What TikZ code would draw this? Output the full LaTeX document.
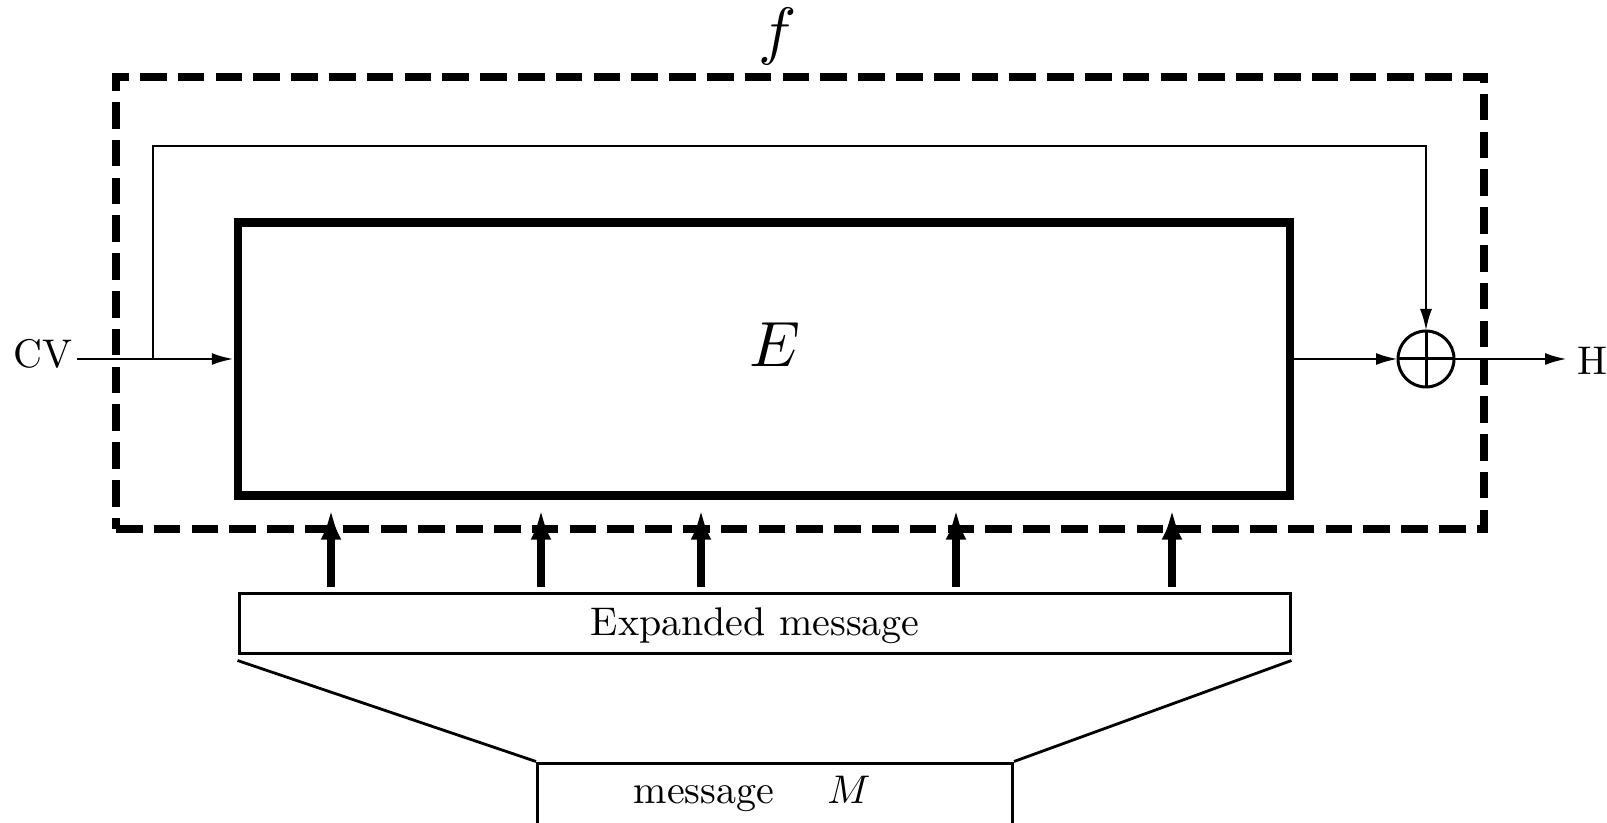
\documentclass[tikz,border=0pt]{standalone}
\usetikzlibrary{arrows.meta}
\begin{document}
\begin{tikzpicture}[x=0.5pt,y=-0.5pt,
  frame/.style={draw, line width=4pt, dash pattern=on 13.3pt off 5.6pt, inner sep=0pt},
  ebox/.style={draw, line width=4.2pt, inner sep=0pt},
  thinbox/.style={draw, line width=1.5pt, inner sep=0pt},
  thinline/.style={line width=1.4pt},
  arr/.style={thinline, -{Latex[length=11pt,width=6pt]}},
  bigarr/.style={line width=4pt, -{Latex[length=15pt,width=10.5pt]}},
  lbl/.style={inner sep=0pt, font=\normalsize, scale=2},
  biglbl/.style={inner sep=0pt, font=\normalsize, scale=3.2}]
\clip (0,0) rectangle (1607,823);

% compression function boundary
\node[frame, minimum width=684pt, minimum height=226pt] (fbox) at (800,303) {};
\node[biglbl, anchor=base] (flabel) at (778,53) {$f$};

% block cipher E
\node[ebox, minimum width=526pt, minimum height=136.5pt] (E) at (764,359) {};
\node[biglbl, anchor=base] (elabel) at (775,367) {$E$};

% message expansion
\node[thinbox, minimum width=525.5pt, minimum height=30pt] (exp) at (764.5,623) {};
\node[lbl, anchor=base west] (explabel) at (590,635) {Expanded message};
\node[thinbox, minimum width=237.5pt, minimum height=45pt] (msg) at (775,808) {};
\node[lbl, anchor=base west] (msglabel) at (633,803) {message\quad\ $M$};
\draw[thinline] ([yshift=-3pt]exp.south west) -- (msg.north west);
\draw[thinline] ([yshift=-3pt]exp.south east) -- (msg.north east);

% message words fed into E
\foreach \x in {331,541,701,956,1172}
  \draw[bigarr, shorten <=2.2pt, shorten >=5pt] (\x,0 |- exp.north) -- (\x,0 |- E.south);

% chaining value, feed-forward and output
\node[lbl, anchor=base east] (cv) at (73,368) {CV};
\node[circle, draw, line width=1.5pt, minimum size=28pt, inner sep=0pt, outer sep=0pt] (xor) at (1426,359) {};
\draw[line width=1.5pt] (xor.north) -- (xor.south) (xor.west) -- (xor.east);
\node[lbl, anchor=base west] (H) at (1577,375) {H};
\coordinate (split) at (153,0 |- E.west);

\draw[arr, shorten <=2pt] (cv.east |- E.west) -- (E.west);
\draw[arr] (split) -- (153,146) -| (xor.north);
\draw[arr] (E.east) -- (xor.west);
\draw[arr, shorten >=5pt] (xor.east) -- (xor.east -| H.west);
\end{tikzpicture}
\end{document}
